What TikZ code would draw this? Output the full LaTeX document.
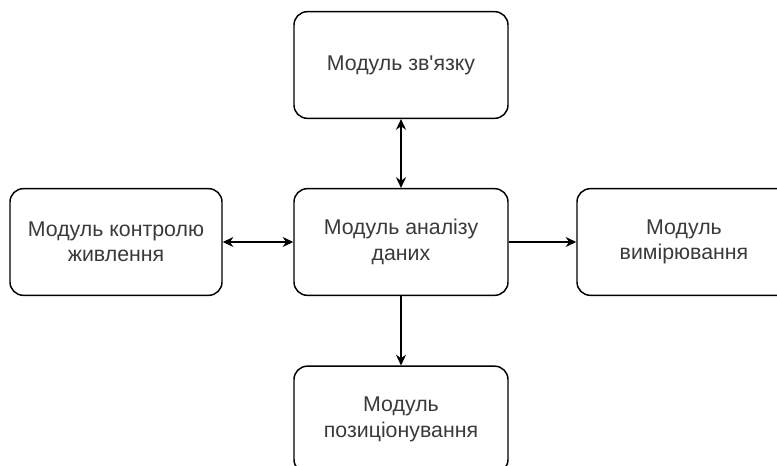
\documentclass[tikz,border=0pt]{standalone}
\usepackage{fontspec}
\setmainfont{Liberation Sans}[Ligatures=TeXOff]
\usetikzlibrary{arrows.meta}
\definecolor{txt}{HTML}{3A3A3A}
\tikzset{
  module/.style={draw=black, line width=1.1pt, rounded corners=10pt, fill=white,
    minimum width=160.5pt, minimum height=80pt, inner sep=0pt, align=center,
    text=txt, font=\fontsize{16}{19}\selectfont},
  link/.style={line width=1.1pt, draw=black}
}
\begin{document}
\begin{tikzpicture}[x=0.75pt,y=-0.75pt]
\useasboundingbox (0,0) rectangle (777,466);
\clip (0,0) rectangle (777,466);
\node[module] (top) at (401,65) {Модуль зв'язку};
\node[module] (mid) at (401,242) {Модуль аналізу\\даних};
\node[module, minimum width=159pt] (left) at (116,242) {Модуль контролю\\живлення};
\node[module] (right) at (684,242) {Модуль\\вимірювання};
\node[module] (bottom) at (401,419.5) {Модуль\\позиціонування};
\draw[link, {Stealth[length=8pt,width=7.5pt]}-{Stealth[length=8pt,width=7.5pt]}] (top.south) -- (mid.north);
\draw[link, {Stealth[length=8pt,width=7.5pt]}-{Stealth[length=8pt,width=7.5pt]}] (left.east) -- (mid.west);
\draw[link, -{Stealth[length=8pt,width=7.5pt]}] (mid.east) -- (right.west);
\draw[link, -{Stealth[length=8pt,width=7.5pt]}] (mid.south) -- (bottom.north);
\end{tikzpicture}
\end{document}
